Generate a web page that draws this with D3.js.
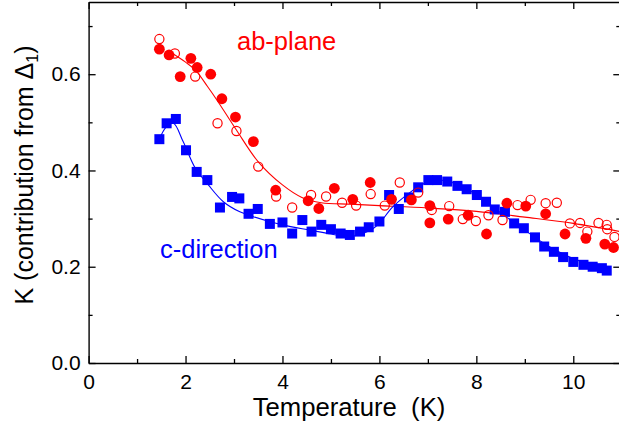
<!DOCTYPE html>
<html>
<head>
<meta charset="utf-8">
<script src="https://cdn.jsdelivr.net/npm/d3@7"></script>
<style>
  html, body { margin: 0; padding: 0; background: #fff; }
  svg { display: block; font-family: "Liberation Sans", Arial, sans-serif; }
</style>
</head>
<body>
<svg id="chart" width="619" height="425"></svg>
<script>
// ---- data (Temperature K, K value) ----
const cDirection = [
  [1.46,0.465],[1.61,0.498],[1.80,0.507],[2.01,0.442],[2.23,0.397],[2.45,0.380],
  [2.71,0.323],[2.96,0.345],[3.11,0.342],[3.30,0.310],[3.49,0.320],[3.74,0.289],
  [4.00,0.292],[4.20,0.269],[4.41,0.297],[4.60,0.273],[4.80,0.287],[5.00,0.278],
  [5.20,0.269],[5.39,0.266],[5.60,0.273],[5.78,0.282],[6.00,0.294],[6.20,0.349],
  [6.40,0.320],[6.61,0.344],[6.80,0.365],[7.01,0.380],[7.19,0.380],[7.40,0.377],
  [7.61,0.368],[7.80,0.361],[8.01,0.349],[8.20,0.335],[8.38,0.319],[8.59,0.314],
  [8.78,0.290],[8.98,0.280],[9.21,0.261],[9.40,0.242],[9.60,0.231],[9.79,0.220],
  [10.00,0.210],[10.21,0.204],[10.40,0.200],[10.59,0.197],[10.69,0.192]
];
const abFilled = [
  [1.46,0.652],[1.66,0.640],[1.89,0.595],[2.11,0.633],[2.24,0.614],[2.52,0.600],
  [2.75,0.549],[3.03,0.511],[3.40,0.460],[3.86,0.359],[4.53,0.337],[4.75,0.321],
  [5.07,0.363],[5.45,0.340],[5.81,0.375],[6.25,0.340],[6.66,0.339],[7.04,0.327],
  [7.04,0.291],[7.42,0.299],[7.83,0.307],[8.21,0.268],[8.63,0.332],[9.02,0.326],
  [9.43,0.310],[9.83,0.268],[10.26,0.259],[10.65,0.247],[10.83,0.240]
];
const abOpen = [
  [1.46,0.673],[1.78,0.643],[2.20,0.595],[2.66,0.498],[3.05,0.482],[3.50,0.408],
  [3.87,0.346],[4.20,0.323],[4.59,0.349],[4.90,0.346],[5.23,0.333],[5.52,0.327],
  [5.82,0.351],[6.11,0.327],[6.42,0.375],[6.80,0.354],[7.08,0.318],[7.44,0.326],
  [7.72,0.299],[7.99,0.295],[8.25,0.307],[8.54,0.297],[8.85,0.328],[9.12,0.339],
  [9.43,0.332],[9.66,0.333],[9.93,0.290],[10.14,0.291],[10.29,0.273],[10.52,0.291],
  [10.69,0.287],[10.70,0.278],[10.85,0.262]
];
const cFit = [
  [1.46,0.465],[1.60,0.490],[1.75,0.498],[1.95,0.460],[2.20,0.405],[2.47,0.370],
  [2.78,0.335],[3.12,0.314],[3.40,0.304],[4.00,0.287],[4.57,0.276],[5.00,0.268],
  [5.40,0.263],[5.80,0.275],[6.00,0.290],[6.25,0.322],[6.60,0.352],[6.90,0.372],
  [7.20,0.380],[7.50,0.375],[8.00,0.350],[8.50,0.312],[9.00,0.276],[9.50,0.242],
  [10.00,0.217],[10.40,0.203],[10.70,0.195]
];
const abFit = [
  [1.70,0.645],[2.00,0.625],[2.20,0.609],[2.45,0.575],[2.65,0.546],[3.05,0.484],
  [3.50,0.418],[4.00,0.370],[4.40,0.344],[4.80,0.333],[5.40,0.330],[6.00,0.327],
  [7.00,0.322],[8.00,0.315],[9.00,0.303],[10.00,0.290],[10.97,0.273]
];
const xMajorTicks = [0, 2, 4, 6, 8, 10];
const xMinorTicks = [1, 3, 5, 7, 9];
const yMajorTicks = [0.0, 0.2, 0.4, 0.6];
const yMinorTicks = [0.1, 0.3, 0.5, 0.7];
const xDomain = [0, 10.97];
const yDomain = [0, 0.75];

// ---- layout ----
const svg = d3.select("#chart");
const L = 88.6, R = 620.3, T = 2, B = 363;
const x = d3.scaleLinear().domain(xDomain).range([L, R]);
const y = d3.scaleLinear().domain(yDomain).range([B, T]);
const RED = "#ff0000", BLUE = "#0000ff";

function styleAxis(g, labels) {
  g.selectAll("path").attr("stroke", "#000").attr("stroke-width", 1.4);
  g.selectAll("line").attr("stroke", "#000").attr("stroke-width", 1.3);
  g.selectAll("text").attr("fill", "#000").attr("font-size", 21)
    .attr("font-family", "Liberation Sans, Arial, sans-serif");
  if (!labels) g.selectAll("text").remove();
}
const fmtX = d3.format("d"), fmtY = d3.format(".1f");
// bottom
svg.append("g").attr("transform", `translate(0,${B})`)
  .call(d3.axisBottom(x).tickValues(xMajorTicks).tickFormat(fmtX).tickSizeInner(-7).tickSizeOuter(0).tickPadding(11))
  .call(g => styleAxis(g, true));
svg.append("g").attr("transform", `translate(0,${B})`)
  .call(d3.axisBottom(x).tickValues(xMinorTicks).tickSizeInner(-4).tickSizeOuter(0))
  .call(g => { styleAxis(g, false); g.select("path").remove(); });
// top
svg.append("g").attr("transform", `translate(0,${T})`)
  .call(d3.axisTop(x).tickValues(xMajorTicks).tickSizeInner(-7).tickSizeOuter(0))
  .call(g => styleAxis(g, false));
svg.append("g").attr("transform", `translate(0,${T})`)
  .call(d3.axisTop(x).tickValues(xMinorTicks).tickSizeInner(-4).tickSizeOuter(0))
  .call(g => { styleAxis(g, false); g.select("path").remove(); });
// left
svg.append("g").attr("transform", `translate(${L},0)`)
  .call(d3.axisLeft(y).tickValues(yMajorTicks).tickFormat(fmtY).tickSizeInner(-7).tickSizeOuter(0).tickPadding(8))
  .call(g => styleAxis(g, true));
svg.append("g").attr("transform", `translate(${L},0)`)
  .call(d3.axisLeft(y).tickValues(yMinorTicks).tickSizeInner(-4).tickSizeOuter(0))
  .call(g => { styleAxis(g, false); g.select("path").remove(); });
// right
svg.append("g").attr("transform", `translate(${R},0)`)
  .call(d3.axisRight(y).tickValues(yMajorTicks).tickSizeInner(-7).tickSizeOuter(0))
  .call(g => styleAxis(g, false));
svg.append("g").attr("transform", `translate(${R},0)`)
  .call(d3.axisRight(y).tickValues(yMinorTicks).tickSizeInner(-4).tickSizeOuter(0))
  .call(g => { styleAxis(g, false); g.select("path").remove(); });

// fit lines
const line = d3.line().x(d => x(d[0])).y(d => y(d[1])).curve(d3.curveCatmullRom.alpha(0.5));
svg.append("path").datum(abFit).attr("d", line).attr("fill", "none").attr("stroke", RED).attr("stroke-width", 1.1);
svg.append("path").datum(cFit).attr("d", line).attr("fill", "none").attr("stroke", BLUE).attr("stroke-width", 1.1);

// markers
const sq = 10;
svg.append("g").selectAll("rect").data(cDirection).join("rect")
  .attr("x", d => x(d[0]) - sq / 2).attr("y", d => y(d[1]) - sq / 2)
  .attr("width", sq).attr("height", sq).attr("fill", BLUE);
svg.append("g").selectAll("circle").data(abOpen).join("circle")
  .attr("cx", d => x(d[0])).attr("cy", d => y(d[1])).attr("r", 4.6)
  .attr("fill", "none").attr("stroke", RED).attr("stroke-width", 1.2);
svg.append("g").selectAll("circle").data(abFilled).join("circle")
  .attr("cx", d => x(d[0])).attr("cy", d => y(d[1])).attr("r", 5.4)
  .attr("fill", RED);

// series labels
svg.append("text").attr("x", 237).attr("y", 50).attr("fill", RED)
  .attr("font-size", 25.5).text("ab-plane");
svg.append("text").attr("x", 160).attr("y", 258).attr("fill", BLUE)
  .attr("font-size", 25.5).text("c-direction");

// axis titles
svg.append("text").attr("x", 349).attr("y", 416).attr("text-anchor", "middle")
  .attr("font-size", 25.7).attr("fill", "#000").style("white-space", "pre")
  .text("Temperature  (K)");
const yl = svg.append("text").attr("transform", "translate(33,175) rotate(-90)")
  .attr("text-anchor", "middle").attr("font-size", 25).attr("fill", "#000");
yl.append("tspan").text("K (contribution from Δ");
yl.append("tspan").attr("font-size", 16).attr("dy", 5).text("1");
yl.append("tspan").attr("dy", -5).text(")");
</script>
</body>
</html>
